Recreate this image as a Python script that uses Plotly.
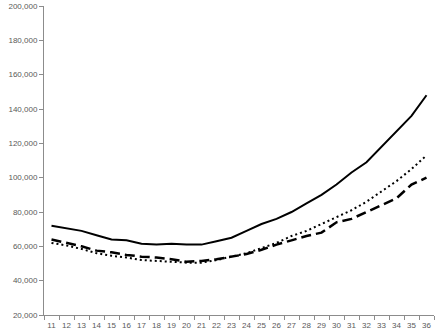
import plotly.graph_objects as go

ages = [str(a) for a in range(11, 37)]

solid_vals = [72000, 70500, 69000, 66500, 64000, 63500, 61500, 61000, 61500, 61000,
              61000, 63000, 65000, 69000, 73000, 76000, 80000, 85000, 90000, 96000,
              103000, 109000, 118000, 127000, 136000, 148000]
dashed_vals = [64000, 62000, 60000, 57500, 56500, 55000, 54000, 53500, 52500, 51000,
               51500, 52500, 54000, 55500, 58000, 61000, 63500, 66000, 68000, 74000,
               76000, 80000, 84000, 88000, 96000, 100000]
dotted_vals = [62000, 60500, 58500, 56000, 54500, 53500, 52000, 51500, 51000, 50500,
               50500, 52000, 54000, 56000, 59000, 62000, 66000, 69000, 73000, 77000,
               81000, 86000, 92000, 98000, 105000, 113000]

y_ticks = list(range(20000, 200001, 20000))

fig = go.Figure()
fig.add_trace(go.Scatter(x=ages, y=solid_vals, mode='lines',
                         line=dict(color='black', width=2)))
fig.add_trace(go.Scatter(x=ages, y=dashed_vals, mode='lines',
                         line=dict(color='black', width=2.5, dash='10px,5px')))
fig.add_trace(go.Scatter(x=ages, y=dotted_vals, mode='lines',
                         line=dict(color='black', width=2, dash='2px,3px')))

axis_color = '#8c8c8c'
fig.update_layout(
    width=438, height=336,
    margin=dict(l=44, r=4, t=6, b=21),
    paper_bgcolor='white', plot_bgcolor='white',
    showlegend=False,
    font=dict(family='Liberation Sans, Arial, sans-serif', size=8, color='#595959'),
    xaxis=dict(type='category', range=[-0.5, 25.5], showgrid=False,
               showline=True, linecolor=axis_color, linewidth=1,
               ticks='outside', ticklen=4, tickcolor=axis_color,
               tickson='boundaries', tickangle=0, automargin=False,
               ticklabelstandoff=2),
    yaxis=dict(range=[20000, 200000], tickvals=y_ticks,
               tickformat=',d', showgrid=False, zeroline=False,
               showline=True, linecolor=axis_color, linewidth=1,
               ticks='outside', ticklen=4, tickcolor=axis_color,
               automargin=False),
)

# drop the browser's default 8px body margin so the figure sits at the page origin
fig.write_html("out.html", config={'displayModeBar': False},
               post_script="document.body.style.margin='0';")
